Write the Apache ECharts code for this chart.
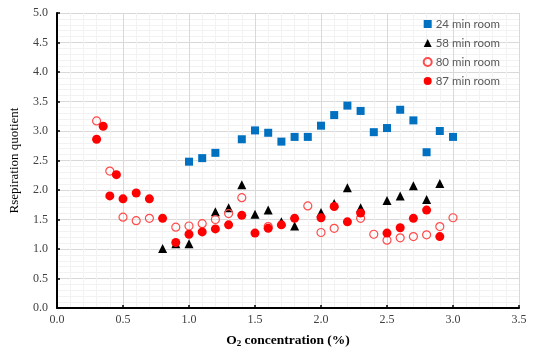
<!DOCTYPE html>
<html><head><meta charset="utf-8">
<script src="https://cdn.jsdelivr.net/npm/echarts@6/dist/echarts.min.js"></script>
<style>html,body{margin:0;padding:0;background:#fff}#c{width:534px;height:353px}</style>
</head><body><div id="c"></div>
<script>
const xTicks = [0.0,0.5,1.0,1.5,2.0,2.5,3.0,3.5];
const yTicks = [0.0,0.5,1.0,1.5,2.0,2.5,3.0,3.5,4.0,4.5,5.0];
const seriesNames = ['24 min room','58 min room','80 min room','87 min room'];

const x24 = [1.0,1.1,1.2,1.4,1.5,1.6,1.7,1.8,1.9,2.0,2.1,2.2,2.3,2.4,2.5,2.6,2.7,2.8,2.9,3.0];
const y24 = [2.48,2.54,2.63,2.86,3.01,2.97,2.82,2.90,2.90,3.09,3.27,3.43,3.34,2.98,3.05,3.36,3.18,2.64,3.00,2.90];

const x58 = [0.8,0.9,1.0,1.2,1.3,1.4,1.5,1.6,1.7,1.8,2.0,2.1,2.2,2.3,2.5,2.6,2.7,2.8,2.9];
const y58 = [1.01,1.09,1.09,1.63,1.70,2.09,1.59,1.66,1.46,1.39,1.62,1.77,2.04,1.70,1.82,1.90,2.07,1.84,2.11];

const x80 = [0.3,0.4,0.5,0.6,0.7,0.9,1.0,1.1,1.2,1.3,1.4,1.6,1.9,2.0,2.1,2.3,2.4,2.5,2.6,2.7,2.8,2.9,3.0];
const y80 = [3.17,2.32,1.54,1.48,1.52,1.37,1.39,1.43,1.50,1.60,1.87,1.38,1.73,1.28,1.35,1.52,1.25,1.15,1.19,1.21,1.24,1.38,1.53];

const x87 = [0.3,0.35,0.4,0.45,0.5,0.6,0.7,0.8,0.9,1.0,1.1,1.2,1.3,1.4,1.5,1.6,1.7,1.8,2.0,2.1,2.2,2.3,2.5,2.6,2.7,2.8,2.9];
const y87 = [2.86,3.08,1.90,2.26,1.85,1.95,1.85,1.52,1.11,1.25,1.29,1.34,1.41,1.57,1.27,1.35,1.41,1.52,1.53,1.72,1.46,1.61,1.27,1.36,1.52,1.66,1.21];

const zip = (xs, ys) => xs.map((x, i) => [x, ys[i]]);
const serif = '"Liberation Serif", "DejaVu Serif", serif';

const chart = echarts.init(document.getElementById('c'), null, {renderer: 'canvas'});
chart.setOption({
  animation: false,
  backgroundColor: '#fff',
  grid: {left: 57, right: 15, top: 13, bottom: 43},
  legend: {
    orient: 'vertical', right: 29, top: 12, itemGap: 5,
    itemWidth: 8, itemHeight: 8,
    textStyle: {fontFamily: 'Lato, "Open Sans", sans-serif', fontSize: 11.5, lineHeight: 14, color: '#595959', padding: [0,0,0,-1]},
    data: [
      {name: seriesNames[0], icon: 'rect'},
      {name: seriesNames[1], icon: 'triangle'},
      {name: seriesNames[2], icon: 'circle'},
      {name: seriesNames[3], icon: 'circle'}
    ]
  },
  xAxis: {
    type: 'value', min: 0, max: 3.5, interval: 0.5,
    name: '{a|O}{s|2}{a| concentration (%)}', nameLocation: 'middle', nameGap: 25,
    nameTextStyle: {rich: {
      a: {fontFamily: serif, fontSize: 13.5, fontWeight: 'bold', color: '#000'},
      s: {fontFamily: serif, fontSize: 9, fontWeight: 'bold', color: '#000', verticalAlign: 'bottom', padding: [6,0,0,0]}
    }},
    axisLine: {show: true, onZero: false, lineStyle: {color: '#000', width: 2}},
    axisTick: {show: true, inside: true, length: 3, lineStyle: {color: '#000', width: 1.5}},
    axisLabel: {fontFamily: serif, fontSize: 12, color: '#404040', margin: 6,
      formatter: v => xTicks.includes(v) ? v.toFixed(1) : ''},
    splitLine: {show: true, lineStyle: {color: '#d9d9d9', width: 1}},
    minorTick: {show: false, splitNumber: 5},
    minorSplitLine: {show: true, lineStyle: {color: '#f2f2f2', width: 1}}
  },
  yAxis: {
    type: 'value', min: 0, max: 5, interval: 0.5,
    name: 'Rsepiration quotient', nameLocation: 'middle', nameGap: 36,
    nameTextStyle: {fontFamily: serif, fontSize: 13, color: '#000'},
    axisLine: {show: true, onZero: false, lineStyle: {color: '#000', width: 2}},
    axisTick: {show: true, inside: true, length: 3, lineStyle: {color: '#000', width: 1.5}},
    axisLabel: {fontFamily: serif, fontSize: 12, color: '#404040', margin: 9,
      formatter: v => yTicks.includes(v) ? v.toFixed(1) : ''},
    splitLine: {show: true, lineStyle: {color: '#d9d9d9', width: 1}},
    minorTick: {show: false, splitNumber: 5},
    minorSplitLine: {show: true, lineStyle: {color: '#f2f2f2', width: 1}}
  },
  series: [
    {name: seriesNames[0], type: 'scatter', symbol: 'rect', symbolSize: 8,
     itemStyle: {color: '#0070C0', opacity: 1}, data: zip(x24, y24)},
    {name: seriesNames[1], type: 'scatter', symbol: 'triangle', symbolSize: 9,
     itemStyle: {color: '#000', opacity: 1}, data: zip(x58, y58)},
    {name: seriesNames[2], type: 'scatter', symbol: 'circle', symbolSize: 8,
     itemStyle: {color: 'rgba(255,255,255,0)', borderColor: '#FF4B4B', borderWidth: 1.2, opacity: 1}, data: zip(x80, y80)},
    {name: seriesNames[3], type: 'scatter', symbol: 'circle', symbolSize: 9,
     itemStyle: {color: '#FF0000', opacity: 1}, data: zip(x87, y87)}
  ]
});
</script></body></html>
